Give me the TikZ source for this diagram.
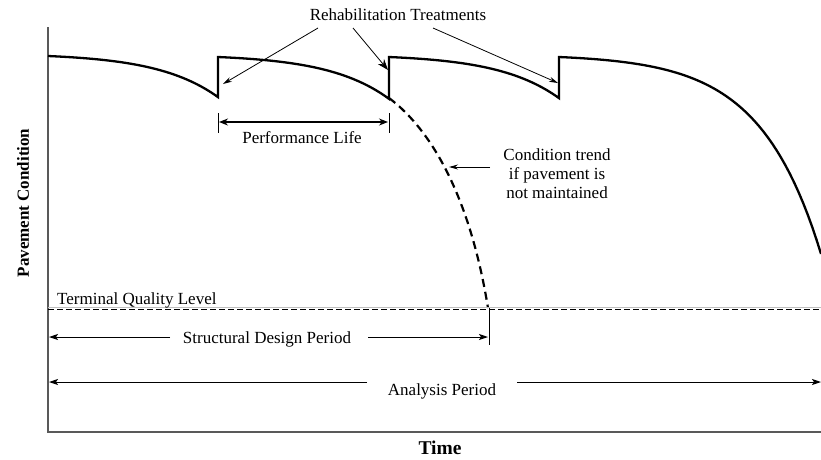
\documentclass[tikz,border=0pt]{standalone}
\usepackage{fontspec}
\setmainfont{Liberation Serif}
\usetikzlibrary{arrows.meta}
\tikzset{
  curve/.style={line width=2.3pt,line join=miter},
  lbl/.style={font=\fontsize{17}{19}\selectfont,inner sep=0pt},
  pointer/.style={line width=0.8pt,-{Stealth[length=9pt,width=5pt]}},
  dimline/.style={line width=1pt,-{Stealth[length=9pt,width=6pt,inset=2pt]}},
  axis/.style={line width=1.3pt,gray!70!black},
}
\newcommand{\decay}[1]{2.65*(exp(0.0165*#1)-1)}

\begin{document}
\begin{tikzpicture}[x=1pt,y=-1pt]
\useasboundingbox (0,0) rectangle (821,459);

% axes
\draw[axis] (48,27) -- (48,432) -- (821,432);
\node[font=\fontsize{17}{19}\selectfont\bfseries,rotate=90] (ylab) at (23,203) {Pavement Condition};
\node[font=\fontsize{19.5}{22}\selectfont\bfseries] (xlab) at (440,448) {Time};

% condition curve with rehabilitations
\draw[curve] plot[domain=0:170,samples=40] ({48+\x},{56+\decay{\x}}) -- (218,57)
  -- plot[domain=0:171,samples=40] ({218+\x},{57+\decay{\x}}) -- (389,57)
  -- plot[domain=0:170,samples=40] ({389+\x},{57+\decay{\x}}) -- (559,57)
  -- plot[domain=0:262,samples=60] ({559+\x},{57+\decay{\x}});

% no maintenance
\coordinate (fail) at (488,308);
\draw[curve,line width=2.2pt,dash pattern=on 8pt off 5pt] (389,98) .. controls (425,125) and (468,185) .. (fail);

% terminal quality level
\draw[gray!50,line width=0.8pt] (48,307) -- (821,307);
\draw[line width=1pt,dash pattern=on 6pt off 3pt] (48,309) -- (821,309);
\node[lbl,anchor=base west] (tql) at (57,304) {Terminal Quality Level};

% rehabilitation treatments
\node[lbl,anchor=base] (rehab) at (398,20) {Rehabilitation Treatments};
\coordinate (r1a) at (318,28);
\coordinate (r2a) at (353,28);
\coordinate (r3a) at (433,28);
\coordinate (r1) at (223,84);
\coordinate (r2) at (388,70);
\coordinate (r3) at (558,83);
\draw[pointer] (r1a) -- (r1);
\draw[line width=0.8pt,-{Stealth[length=11pt,width=8pt]}] (r2a) -- (r2);
\draw[pointer] (r3a) -- (r3);

% performance life
\draw[line width=1pt] (218,113) -- (218,133);
\draw[line width=1pt] (389,113) -- (389,133);
\coordinate (plL) at (219,122);
\coordinate (plR) at (388,122);
\draw[line width=1.3pt,{Stealth[length=9pt,width=7pt]}-{Stealth[length=9pt,width=7pt]}] (plL) -- (plR);
\node[lbl,anchor=base] (perf) at (302,143) {Performance Life};

% condition trend
\node[lbl,align=center] (cond) at (557,174) {Condition trend\\if pavement is\\not maintained};
\coordinate (ctA) at (490,167);
\coordinate (ctB) at (449,167);
\draw[pointer] (ctA) -- (ctB);

% structural design period
\draw[line width=0.9pt] (489,308) -- (489,345);
\node[lbl,anchor=base] (sdp) at (267,343) {Structural Design Period};
\coordinate (sdpL) at (170,337);
\coordinate (sdpR) at (368,337);
\coordinate (sdpLend) at (49,337);
\coordinate (sdpRend) at (488,337);
\draw[dimline] (sdpL) -- (sdpLend);
\draw[dimline] (sdpR) -- (sdpRend);

% analysis period
\node[lbl,anchor=base] (ap) at (442,395) {Analysis Period};
\coordinate (apL) at (367,382);
\coordinate (apR) at (517,382);
\coordinate (apLend) at (49,382);
\coordinate (apRend) at (821,382);
\draw[dimline] (apL) -- (apLend);
\draw[dimline] (apR) -- (apRend);
\end{tikzpicture}
\end{document}
